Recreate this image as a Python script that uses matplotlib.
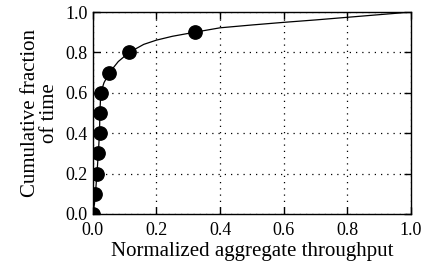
"""CDF of normalized aggregate throughput."""

import matplotlib
matplotlib.use("Agg")
from matplotlib import pyplot as plt
import numpy as np

# Curve
curve_x = [0.0, 0.005, 0.008, 0.013, 0.017, 0.021, 0.022, 0.025, 0.035, 0.052,
           0.08, 0.114, 0.16, 0.2, 0.25, 0.32, 0.4, 0.5, 0.6, 0.7, 0.8, 0.9, 1.0]
curve_y = [0.0, 0.05, 0.1, 0.2, 0.3, 0.4, 0.5, 0.6, 0.65, 0.7,
           0.755, 0.8, 0.84, 0.861, 0.88, 0.9, 0.922, 0.936, 0.949, 0.961, 0.974, 0.987, 1.0]

# Markers at every 0.1 of the cumulative fraction
mark_x = [0.0, 0.008, 0.013, 0.017, 0.021, 0.022, 0.025, 0.052, 0.114, 0.32]
mark_y = [0.0, 0.1, 0.2, 0.3, 0.4, 0.5, 0.6, 0.7, 0.8, 0.9]

xticks = np.arange(0, 1.01, 0.2)
yticks = np.arange(0, 1.01, 0.2)

plt.rcParams['font.family'] = ['Liberation Serif', 'DejaVu Serif']

fig = plt.figure(figsize=(4.24, 2.68), dpi=100)
ax = fig.add_axes([0.219, 0.2015, 0.75, 0.7535])

ax.plot(curve_x, curve_y, color='black', linewidth=0.9, zorder=3)
ax.plot(mark_x, mark_y, 'o', color='black', markersize=9.6, zorder=4, clip_on=True)

ax.set_xlim(0, 1)
ax.set_ylim(0, 1)
ax.set_xticks(xticks)
ax.set_yticks(yticks)
ax.set_xticklabels(["%.1f" % v for v in xticks])
ax.set_yticklabels(["%.1f" % v for v in yticks])
ax.tick_params(direction='in', length=5, width=1, top=True, right=True,
               labelsize=13, colors='black')
ax.tick_params(axis='x', pad=6)
ax.tick_params(axis='y', pad=4)

ax.grid(True, color='black', linestyle=(0, (1, 4)), linewidth=0.9)
for s in ax.spines.values():
    s.set_linewidth(1.0)

ax.set_xlabel("Normalized aggregate throughput", fontsize=15, labelpad=2)
ax.set_ylabel("Cumulative fraction\nof time", fontsize=15, labelpad=4, linespacing=1.0)

plt.savefig("out.png", dpi=100)
